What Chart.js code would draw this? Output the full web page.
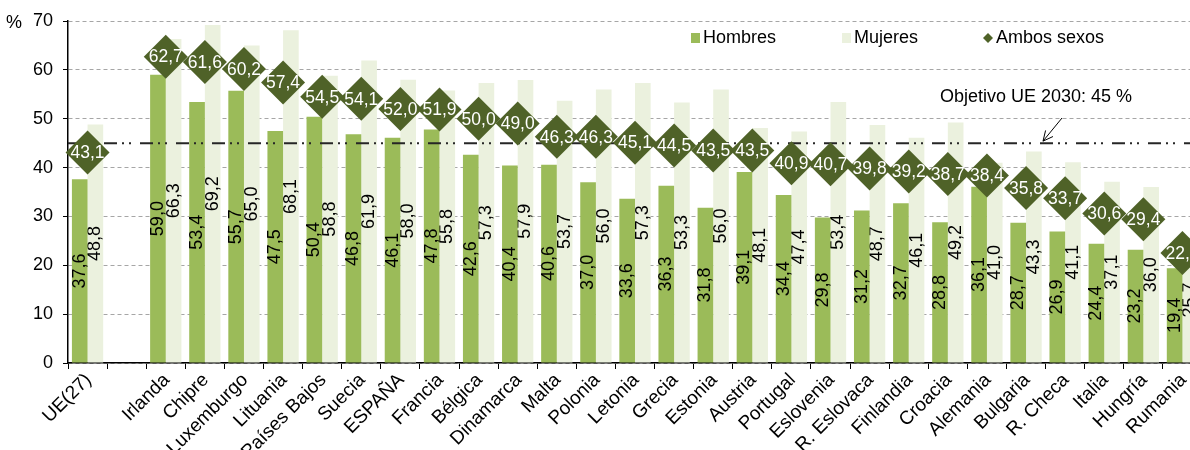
<!DOCTYPE html>
<html>
<head>
<meta charset="utf-8">
<script src="https://cdn.jsdelivr.net/npm/chart.js@4.4.0/dist/chart.umd.min.js"></script>
<style>
  html, body { margin: 0; padding: 0; background: #fff; overflow: hidden; }
  canvas { display: block; }
</style>
</head>
<body>
<canvas id="chart" width="1202" height="450"></canvas>
<script>
const countries = ['UE(27)', '', 'Irlanda', 'Chipre', 'Luxemburgo', 'Lituania', 'Países Bajos', 'Suecia', 'ESPAÑA',
  'Francia', 'Bélgica', 'Dinamarca', 'Malta', 'Polonia', 'Letonia', 'Grecia', 'Estonia', 'Austria', 'Portugal',
  'Eslovenia', 'R. Eslovaca', 'Finlandia', 'Croacia', 'Alemania', 'Bulgaria', 'R. Checa', 'Italia', 'Hungría', 'Rumania'];
const hombres = [37.6, null, 59.0, 53.4, 55.7, 47.5, 50.4, 46.8, 46.1, 47.8, 42.6, 40.4, 40.6, 37.0, 33.6, 36.3,
  31.8, 39.1, 34.4, 29.8, 31.2, 32.7, 28.8, 36.1, 28.7, 26.9, 24.4, 23.2, 19.4];
const mujeres = [48.8, null, 66.3, 69.2, 65.0, 68.1, 58.8, 61.9, 58.0, 55.8, 57.3, 57.9, 53.7, 56.0, 57.3, 53.3,
  56.0, 48.1, 47.4, 53.4, 48.7, 46.1, 49.2, 41.0, 43.3, 41.1, 37.1, 36.0, 25.7];
const ambos = [43.1, null, 62.7, 61.6, 60.2, 57.4, 54.5, 54.1, 52.0, 51.9, 50.0, 49.0, 46.3, 46.3, 45.1, 44.5,
  43.5, 43.5, 40.9, 40.7, 39.8, 39.2, 38.7, 38.4, 35.8, 33.7, 30.6, 29.4, 22.5];
const seriesNames = ['Hombres', 'Mujeres', 'Ambos sexos'];
const yTicks = [0, 10, 20, 30, 40, 50, 60, 70];
const target = 45;
const targetLabel = 'Objetivo UE 2030: 45 %';

const colHombres = '#9BBB59';
const colMujeres = '#EBF1DE';
const colAmbos = '#4F6228';
const font = '"Liberation Sans", Arial, sans-serif';
const fmt = v => v.toFixed(1).replace('.', ',');

const labelPlugin = {
  id: 'labelPlugin',
  beforeDatasetDraw(chart, args) {
    if (args.meta.type !== 'line') return;
    // target line under the diamonds
    const ctx = chart.ctx;
    const area = chart.chartArea;
    const y = chart.scales.y.getPixelForValue(target);
    ctx.save();
    ctx.strokeStyle = '#262626';
    ctx.lineWidth = 2;
    ctx.setLineDash([13, 5, 2, 5, 2, 9]);
    ctx.beginPath();
    ctx.moveTo(area.left, y);
    ctx.lineTo(area.right, y);
    ctx.stroke();
    ctx.restore();
  },
  afterDatasetDraw(chart, args) {
    const ctx = chart.ctx;
    const ds = chart.data.datasets[args.index];
    ctx.save();
    ctx.textAlign = 'center';
    ctx.textBaseline = 'middle';
    args.meta.data.forEach((el, i) => {
      const v = ds.data[i];
      if (v == null) return;
      if (args.meta.type === 'bar') {
        ctx.save();
        ctx.font = '18px ' + font;
        ctx.translate(el.x, (el.y + el.base) / 2);
        ctx.rotate(-Math.PI / 2);
        ctx.fillStyle = '#000';
        ctx.fillText(fmt(v), 0, 0);
        ctx.restore();
      } else {
        ctx.font = '17.5px ' + font;
        ctx.fillStyle = '#fff';
        ctx.fillText(fmt(v), el.x, el.y + 1);
      }
    });
    ctx.restore();
  },
  afterDraw(chart) {
    const ctx = chart.ctx;
    const y45 = chart.scales.y.getPixelForValue(target);
    ctx.save();
    ctx.fillStyle = '#000';
    ctx.font = '18px ' + font;
    ctx.textBaseline = 'middle';
    ctx.textAlign = 'center';
    ctx.fillText('%', 14, 23);

    // legend
    ctx.font = '18px ' + font;
    ctx.textAlign = 'left';
    const ly = 38;
    ctx.fillStyle = colHombres;
    ctx.fillRect(691, ly - 5, 9, 10);
    ctx.fillStyle = '#000';
    ctx.fillText(seriesNames[0], 703, ly);
    ctx.fillStyle = colMujeres;
    ctx.fillRect(842, ly - 5, 9, 10);
    ctx.fillStyle = '#000';
    ctx.fillText(seriesNames[1], 854, ly);
    ctx.fillStyle = colAmbos;
    ctx.beginPath();
    ctx.moveTo(988, ly - 5);
    ctx.lineTo(993, ly);
    ctx.lineTo(988, ly + 5);
    ctx.lineTo(983, ly);
    ctx.closePath();
    ctx.fill();
    ctx.fillStyle = '#000';
    ctx.fillText(seriesNames[2], 996, ly);

    // target annotation
    ctx.fillText(targetLabel, 940, 97);
    const tipX = 1043, tipY = y45 - 2;
    ctx.strokeStyle = '#000';
    ctx.lineWidth = 1;
    ctx.beginPath();
    ctx.moveTo(1062, 118);
    ctx.lineTo(tipX, tipY);
    const ang = Math.atan2(118 - tipY, 1062 - tipX);
    [0.45, -0.45].forEach(d => {
      ctx.moveTo(tipX, tipY);
      ctx.lineTo(tipX + 11 * Math.cos(ang + d), tipY + 11 * Math.sin(ang + d));
    });
    ctx.stroke();
    ctx.restore();
  }
};

new Chart(document.getElementById('chart'), {
  data: {
    labels: countries,
    datasets: [{
      type: 'line',
      label: seriesNames[2],
      data: ambos,
      showLine: false,
      pointStyle: 'rectRot',
      pointRadius: 22,
      pointHoverRadius: 22,
      pointBackgroundColor: colAmbos,
      pointBorderWidth: 0,
      borderWidth: 0,
      clip: false,
      order: 0
    }, {
      type: 'bar',
      label: seriesNames[0],
      data: hombres,
      backgroundColor: colHombres,
      barPercentage: 1.0,
      categoryPercentage: 0.8,
      order: 1
    }, {
      type: 'bar',
      label: seriesNames[1],
      data: mujeres,
      backgroundColor: colMujeres,
      barPercentage: 1.0,
      categoryPercentage: 0.8,
      order: 1
    }]
  },
  options: {
    responsive: false,
    animation: false,
    devicePixelRatio: 1,
    layout: { autoPadding: false, padding: { top: 21, right: 0, left: 0, bottom: 0 } },
    scales: {
      x: {
        offset: true,
        grid: {
          display: true,
          drawOnChartArea: false,
          drawTicks: true,
          tickLength: 6,
          tickColor: '#000',
          offset: true,
          tickBorderDash: []
        },
        border: { color: '#000', width: 1.5 },
        ticks: {
          autoSkip: false,
          maxRotation: 45,
          minRotation: 45,
          padding: 0,
          labelOffset: 1,
          color: '#000',
          font: { family: font, size: 19 }
        },
        afterFit: s => { s.height = 87; s.paddingRight = 0; s.paddingLeft = 0; }
      },
      y: {
        min: 0,
        max: 70,
        afterBuildTicks: s => { s.ticks = yTicks.map(v => ({ value: v })); },
        grid: {
          color: '#a6a6a6',
          tickColor: '#000',
          tickLength: 5,
          tickBorderDash: []
        },
        border: { color: '#000', width: 1.5, dash: [4, 3] },
        ticks: {
          padding: 10,
          color: '#000',
          font: { family: font, size: 18 }
        },
        afterFit: s => { s.width = 68; }
      }
    },
    plugins: {
      legend: { display: false },
      tooltip: { enabled: false }
    }
  },
  plugins: [labelPlugin]
});
</script>
</body>
</html>
